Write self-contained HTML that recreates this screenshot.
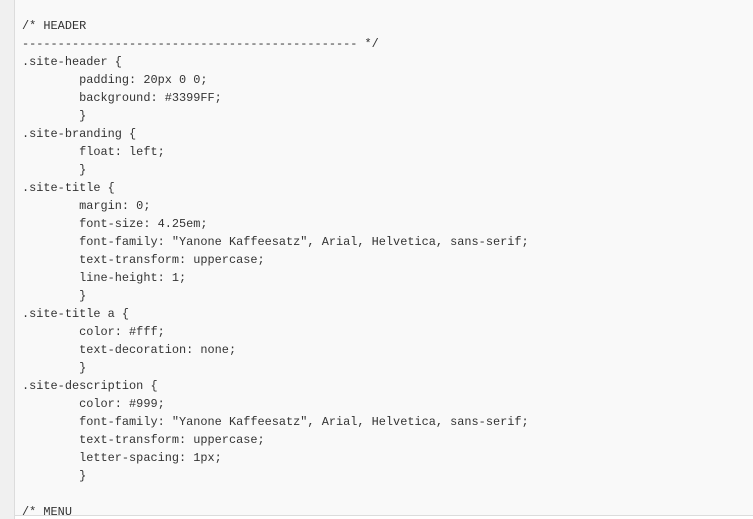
<!DOCTYPE html>
<html><head><meta charset="utf-8"><style>
html,body{margin:0;padding:0;width:753px;height:519px;overflow:hidden;background:#fff;}
.gut{position:absolute;left:0;top:0;width:14px;height:519px;background:#f0f0f0;border-right:1px solid #dcdcdc;}
.box{position:absolute;left:15px;top:0;width:738px;height:515px;background:#f9f9f9;border-bottom:1px solid #dcdcdc;overflow:hidden;}
pre{margin:0;position:absolute;left:7px;top:17px;font-family:"Liberation Mono",monospace;font-size:11.9px;line-height:18px;color:#333;tab-size:8;-moz-tab-size:8;white-space:pre;}
</style></head><body>
<div class="gut"></div>
<div class="box"><pre>/* HEADER
----------------------------------------------- */
.site-header {
	padding: 20px 0 0;
	background: #3399FF;
	}
.site-branding {
	float: left;
	}
.site-title {
	margin: 0;
	font-size: 4.25em;
	font-family: "Yanone Kaffeesatz", Arial, Helvetica, sans-serif;
	text-transform: uppercase;
	line-height: 1;
	}
.site-title a {
	color: #fff;
	text-decoration: none;
	}
.site-description {
	color: #999;
	font-family: "Yanone Kaffeesatz", Arial, Helvetica, sans-serif;
	text-transform: uppercase;
	letter-spacing: 1px;
	}

/* MENU</pre></div>
</body></html>
